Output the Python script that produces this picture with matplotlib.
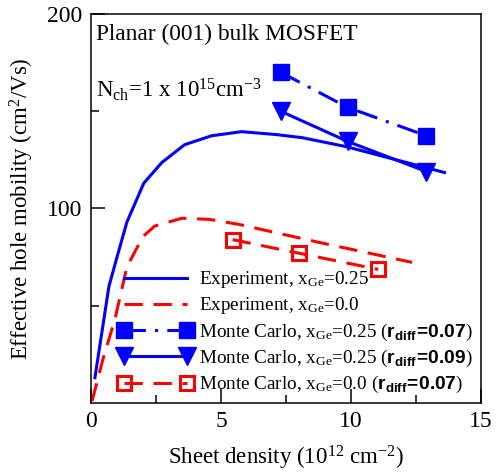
import matplotlib
matplotlib.use("Agg")
import matplotlib.pyplot as plt
from matplotlib.ticker import FixedLocator

plt.rcParams['font.family'] = ['Liberation Serif', 'DejaVu Serif']
plt.rcParams['mathtext.fontset'] = 'custom'
plt.rcParams['mathtext.rm'] = 'Liberation Serif'
plt.rcParams['mathtext.it'] = 'Liberation Serif:italic'
plt.rcParams['mathtext.bf'] = 'Liberation Sans:bold'
plt.rcParams['mathtext.sf'] = 'Liberation Sans'

# Experimental curves
exp025_x = [0.15, 0.69, 1.0, 1.38, 2.03, 2.72, 3.6, 4.64, 5.79, 7.13, 8.13, 9.82, 13.6]
exp025_y = [13, 60, 75, 93, 113, 123.6, 132.8, 137.4, 139.5, 138, 136.4, 131.8, 118.5]
exp00_x = [0.04, 0.46, 0.92, 1.38, 2.0, 2.45, 3.5, 4.56, 5.7, 8.8, 12.35]
exp00_y = [1, 22.6, 43, 70, 85.6, 91, 95, 94.4, 91.8, 82.5, 72.3]

# Monte Carlo results
mc_x = [7.3, 9.87, 12.9]
mc025_a_y = [170, 152, 137.4]   # r_diff = 0.07
mc025_b_y = [150, 134.5, 119]   # r_diff = 0.09
mc00_x = [5.45, 8.0, 11.05]
mc00_y = [84, 77, 68.7]

x_ticks = [0, 5, 10, 15]
y_ticks = [100, 200]

labels = [
    r"Experiment, x$_{\mathrm{Ge}}$=0.25",
    r"Experiment, x$_{\mathrm{Ge}}$=0.0",
    r"Monte Carlo, x$_{\mathrm{Ge}}$=0.25 ($\mathbf{r_{diff}\!=\!0.07}$)",
    r"Monte Carlo, x$_{\mathrm{Ge}}$=0.25 ($\mathbf{r_{diff}\!=\!0.09}$)",
    r"Monte Carlo, x$_{\mathrm{Ge}}$=0.0 ($\mathbf{r_{diff}\!=\!0.07}$)",
]

fig = plt.figure(figsize=(5.02, 4.73), dpi=100)
ax = fig.add_axes([0.1813, 0.148, 0.7767, 0.8224])

blue = '#0000ff'
red = '#ff0000'
lw = 2.2

h1, = ax.plot(exp025_x, exp025_y, color=blue, lw=lw, label=labels[0])
h2, = ax.plot(exp00_x, exp00_y, color=red, lw=lw, dashes=(6, 3.5), label=labels[1])
h3, = ax.plot(mc_x, mc025_a_y, color=blue, lw=lw, dashes=(7, 3, 1, 3),
              marker='s', markersize=11, label=labels[2])
h4, = ax.plot(mc_x, mc025_b_y, color=blue, lw=lw, marker='v', markersize=13,
              label=labels[3])
h5, = ax.plot(mc00_x, mc00_y, color=red, lw=lw, dashes=(6, 3.5), marker='s',
              markersize=10, markerfacecolor='none', markeredgewidth=2.2,
              label=labels[4])

ax.set_xlim(0, 15)
ax.set_ylim(0, 200)
ax.xaxis.set_major_locator(FixedLocator(x_ticks))
ax.xaxis.set_minor_locator(FixedLocator([2.5, 7.5, 12.5]))
ax.yaxis.set_major_locator(FixedLocator(y_ticks))
ax.yaxis.set_minor_locator(FixedLocator([50, 150]))
ax.tick_params(which='both', direction='in', top=False, right=False, labelsize=17, width=1.1)
ax.tick_params(which='major', length=10, pad=6)
ax.tick_params(which='minor', length=6)
for s in ax.spines.values():
    s.set_linewidth(1.1)

ax.set_xlabel(r"Sheet density (10$^{12}$ cm$^{-2}$)", fontsize=16.5, labelpad=8)
ax.set_ylabel(r"Effective hole mobility (cm$^{2}$/Vs)", fontsize=16.5, labelpad=8)

ax.text(0.013, 0.933, "Planar (001) bulk MOSFET", transform=ax.transAxes,
        fontsize=16.8, ha='left', va='baseline')
ax.text(0.013, 0.787, r"N$_{\mathrm{ch}}$=1 x 10$^{15}$cm$^{-3}$", transform=ax.transAxes,
        fontsize=16.5, ha='left', va='baseline')

leg = ax.legend(handles=[h1, h2, h3, h4, h5], loc='lower left',
                bbox_to_anchor=(0.05, 0.0), frameon=False, fontsize=13.8,
                handlelength=3.9, handletextpad=0.3, labelspacing=0.27,
                borderaxespad=0.2, borderpad=0.2, numpoints=2)

fig.savefig("out.png", dpi=100)
